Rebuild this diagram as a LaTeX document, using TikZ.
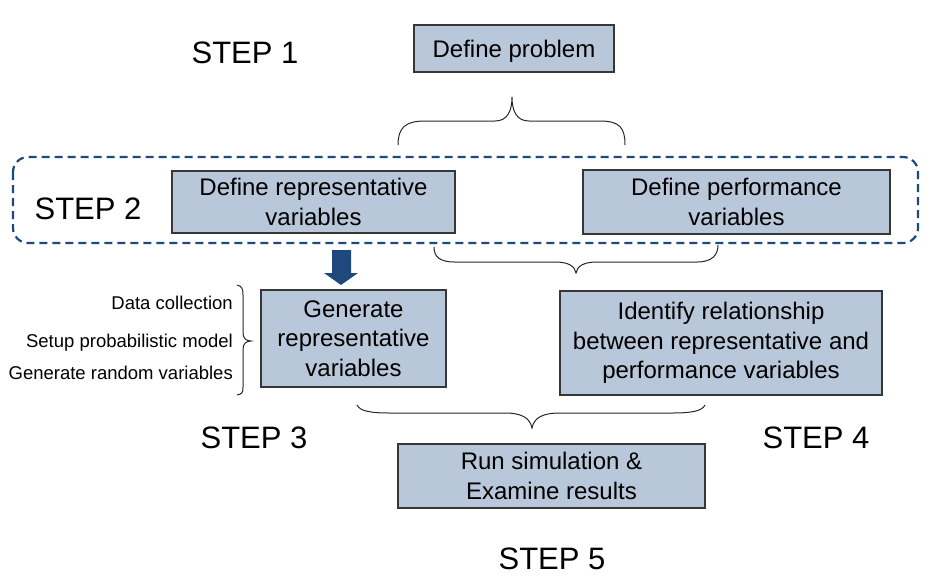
\documentclass[tikz,border=0pt]{standalone}
\usepackage{fontspec}
\setmainfont{Liberation Sans}
\definecolor{boxfill}{RGB}{184,199,217}
\definecolor{boxline}{RGB}{55,55,55}
\definecolor{dkblue}{RGB}{31,73,125}
\begin{document}
\begin{tikzpicture}[x=1pt,y=-1pt,
  stepbox/.style={draw=boxline,fill=boxfill,line width=1.3pt,inner sep=0pt,align=center,
    font=\fontsize{24}{29.5}\selectfont,execute at begin node={\rule{0pt}{23.5pt}}},
  steplabel/.style={inner sep=0pt,font=\fontsize{31}{36}\selectfont},
  subitem/.style={inner sep=0pt,anchor=base east,font=\fontsize{18.5}{22}\selectfont},
  bracepath/.style={draw=black!85,line width=1pt},
]
\useasboundingbox (0,0) rectangle (939,582);

% dashed group
\draw[dkblue,line width=2.2pt,dash pattern=on 8pt off 5pt,rounded corners=15pt]
  (13,157) rectangle (918,243);

% boxes
\node[stepbox,minimum width=200pt,minimum height=47pt] (prob) at (514,48.5) {Define problem};
\node[stepbox,minimum width=283pt,minimum height=62pt] (rep) at (313.5,202) {Define representative\\variables};
\node[stepbox,minimum width=307pt,minimum height=64pt] (perf) at (736.5,202) {Define performance\\variables};
\node[stepbox,minimum width=185pt,minimum height=97pt] (gen) at (353.5,338.5) {Generate\\representative\\variables};
\node[stepbox,minimum width=322pt,minimum height=104pt] (ident) at (721,343) {Identify relationship\\between representative and\\performance variables};
\node[stepbox,minimum width=307pt,minimum height=64pt] (run) at (551.5,476) {Run simulation \&\\Examine results};

% step labels
\node[steplabel] (s1) at (245,52.5) {STEP 1};
\node[steplabel] (s2) at (88,208.5) {STEP 2};
\node[steplabel] (s3) at (254,437.5) {STEP 3};
\node[steplabel] (s4) at (816,437.5) {STEP 4};
\node[steplabel] (s5) at (552,558.5) {STEP 5};

% sub items
\node[subitem] (d1) at (233,309.6) {Data collection};
\node[subitem] (d2) at (233,347.6) {Setup probabilistic model};
\node[subitem] (d3) at (233,379.6) {Generate random variables};

% thick arrow
\fill[dkblue] (332,250) -- (351,250) -- (351,273) -- (358,273) -- (341,285)
  -- (324,273) -- (332,273) -- cycle;

% top brace (pointing up)
\draw[bracepath] (398,145) .. controls (398,128) and (405,121) .. (425,121) -- (495,121)
  .. controls (508,121) and (512,110) .. (512,97)
  .. controls (512,110) and (516,121) .. (529,121) -- (600,121)
  .. controls (620,121) and (625,128) .. (625,145);

% brace below group (pointing down)
\draw[bracepath] (434,247) .. controls (434,257) and (440,262) .. (455,262) -- (555,262)
  .. controls (568,262) and (575,266) .. (576,273)
  .. controls (577,266) and (584,262) .. (597,262) -- (697,262)
  .. controls (712,262) and (718,255) .. (718,245);

% left brace (pointing right)
\draw[bracepath] (237,285) .. controls (242,286) and (243,289) .. (243,295) -- (243,333)
  .. controls (243,338) and (246,341) .. (251,341)
  .. controls (246,341) and (243,344) .. (243,349) -- (243,387)
  .. controls (243,393) and (242,394) .. (237,395);

% bottom brace (pointing down)
\draw[bracepath] (357,405) .. controls (360,411) and (370,413) .. (390,413) -- (505,413)
  .. controls (522,413) and (530,418) .. (532,428)
  .. controls (534,418) and (542,413) .. (560,413) -- (672,413)
  .. controls (692,413) and (702,411) .. (705,405);
\end{tikzpicture}
\end{document}
